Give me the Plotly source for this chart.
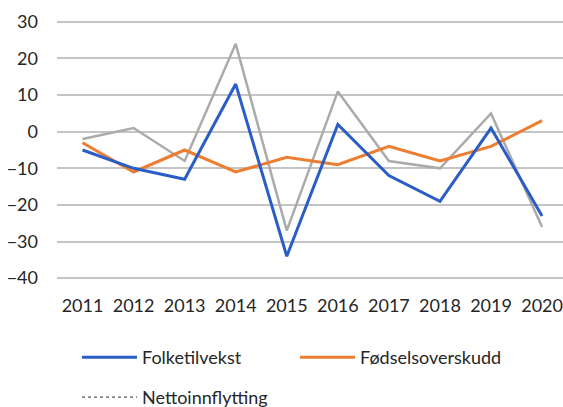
import plotly.graph_objects as go

years = ["2011", "2012", "2013", "2014", "2015", "2016", "2017", "2018", "2019", "2020"]
folketilvekst = [-5, -10, -13, 13, -34, 2, -12, -19, 1, -23]
fodselsoverskudd = [-3, -11, -5, -11, -7, -9, -4, -8, -4, 3]
nettoinnflytting = [-2, 1, -8, 24, -27, 11, -8, -10, 5, -26]
y_ticks = [30, 20, 10, 0, -10, -20, -30, -40]

FONT = "Lato, Open Sans, sans-serif"
W, H = 563, 407
L, R, T, B = 57, 0, 20, 407 - 280
PW = W - L - R
PH = H - T - B

def px_x(p):
    return (p - L) / PW

def px_y(p):
    return 1 - (p - T) / PH

fig = go.Figure()
fig.add_trace(go.Scatter(x=years, y=nettoinnflytting, mode="lines", name="Nettoinnflytting",
                         line=dict(color="#ABABAB", width=2.5), showlegend=False))
fig.add_trace(go.Scatter(x=years, y=fodselsoverskudd, mode="lines", name="Fødselsoverskudd",
                         line=dict(color="#ED7D31", width=3), legend="legend"))
fig.add_trace(go.Scatter(x=years, y=folketilvekst, mode="lines", name="Folketilvekst",
                         line=dict(color="#2A5EC6", width=3), legend="legend"))
# legend entry for Nettoinnflytting (draws no marks)
fig.add_trace(go.Scatter(x=[None], y=[None], mode="lines", name="Nettoinnflytting",
                         line=dict(color="#555555", width=1.2, dash="dot"), legend="legend2"))

fig.update_layout(
    width=W, height=H,
    margin=dict(l=L, r=R, t=T, b=B, autoexpand=False),
    paper_bgcolor="white", plot_bgcolor="white",
    font=dict(family=FONT, size=18, color="#262626"),
    hovermode=False,
    xaxis=dict(type="category", range=[-0.5, 9.41], showgrid=False, showline=False,
               zeroline=False, ticks="", ticklabelstandoff=13,
               tickfont=dict(family=FONT, size=18, color="#262626")),
    yaxis=dict(range=[-40.5, 30.5], tickvals=y_ticks, showgrid=True, gridcolor="#C4C4C4",
               gridwidth=1.5, zeroline=False, showline=False, ticks="",
               ticklabelstandoff=18, tickfont=dict(family=FONT, size=18, color="#262626")),
    legend=dict(orientation="h", x=px_x(77), y=px_y(339), xanchor="left", yanchor="top",
                traceorder="reversed", entrywidth=148, entrywidthmode="pixels",
                itemwidth=55,
                font=dict(family=FONT, size=18, color="#262626"), bgcolor="rgba(0,0,0,0)"),
    legend2=dict(orientation="h", x=px_x(77), y=px_y(379), xanchor="left", yanchor="top",
                 itemwidth=55,
                 font=dict(family=FONT, size=18, color="#262626"), bgcolor="rgba(0,0,0,0)"),
)

fig.write_html("out.html", config={"displayModeBar": False},
               post_script="document.body.style.margin='0';document.body.style.overflow='hidden';")
